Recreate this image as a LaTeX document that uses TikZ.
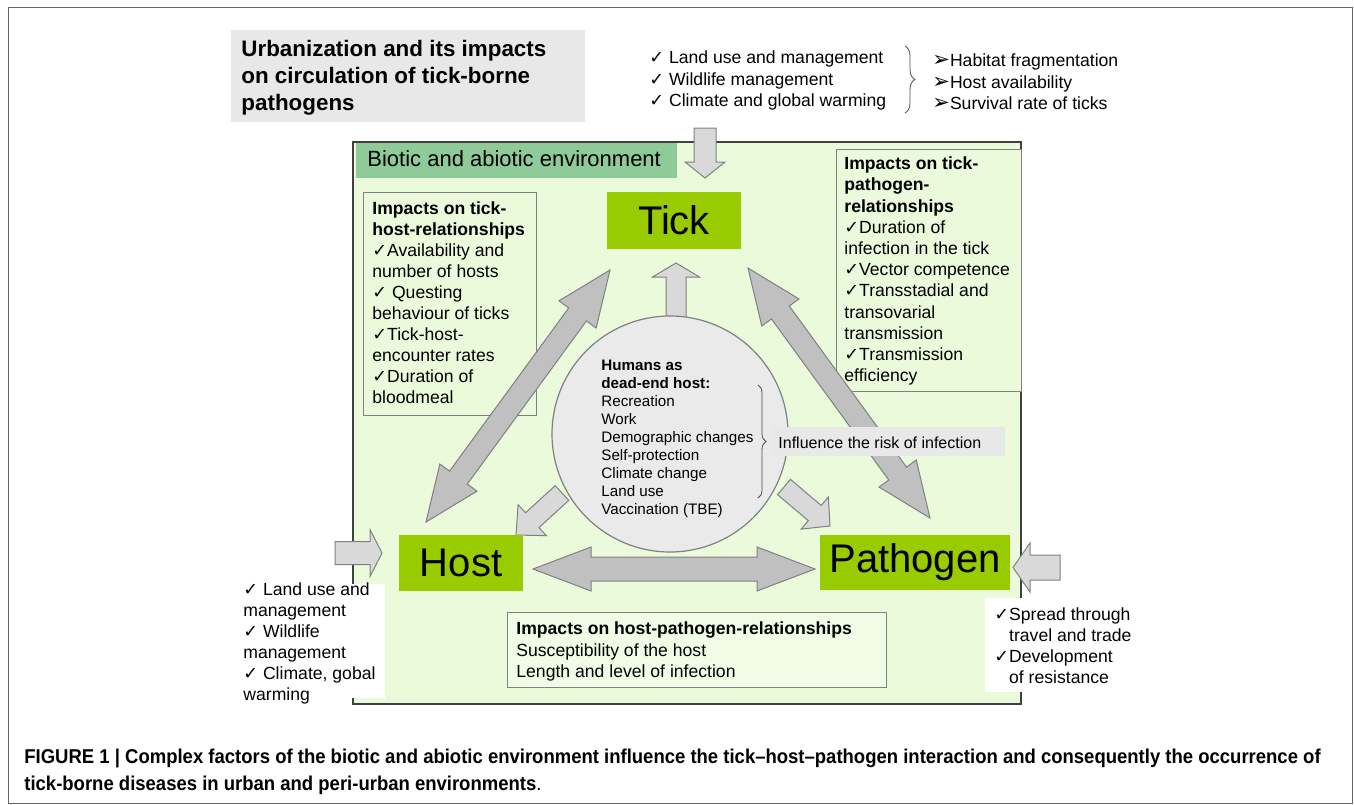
\documentclass[tikz,border=0pt]{standalone}
\usepackage{fontspec}
\setmainfont{Liberation Sans}
\newfontfamily\symf{DejaVu Sans}
\newfontfamily\capf[FakeStretch=0.925]{Liberation Sans}
\usetikzlibrary{calc,decorations.pathreplacing}

\definecolor{envbg}{RGB}{236,250,220}
\definecolor{boxbg}{RGB}{241,252,231}
\definecolor{leaf}{RGB}{153,204,0}
\definecolor{envlab}{RGB}{143,202,153}
\definecolor{titlegray}{RGB}{232,232,232}
\definecolor{circgray}{RGB}{234,234,234}
\definecolor{arrowlight}{RGB}{217,217,217}
\definecolor{arrowdark}{RGB}{192,192,192}
\definecolor{edge}{RGB}{128,128,128}

\newcommand{\chk}{{\symf ✓}}
\newcommand{\pointer}{{\symf\fontsize{10.5}{10}\selectfont ➢}}

% block arrow: from, to, shaft half width, head half width, head length
\newcommand{\onearrow}[6][]{%
  \path ($(#3)!#6!(#2)$) coordinate (hb);
  \draw[#1] ($(#2)!#4!90:(#3)$) -- ($(hb)!#4!-90:(#2)$) -- ($(hb)!#5!-90:(#2)$) -- (#3)
    -- ($(hb)!#5!90:(#2)$) -- ($(hb)!#4!90:(#2)$) -- ($(#2)!#4!-90:(#3)$) -- cycle;}
\newcommand{\twoarrow}[6][]{%
  \path ($(#2)!#6!(#3)$) coordinate (ha) ($(#3)!#6!(#2)$) coordinate (hb);
  \draw[#1] (#2) -- ($(ha)!#5!90:(#3)$) -- ($(ha)!#4!90:(#3)$) -- ($(hb)!#4!-90:(#2)$)
    -- ($(hb)!#5!-90:(#2)$) -- (#3) -- ($(hb)!#5!90:(#2)$) -- ($(hb)!#4!90:(#2)$)
    -- ($(ha)!#4!-90:(#3)$) -- ($(ha)!#5!-90:(#3)$) -- cycle;}

\tikzset{
  txt/.style={anchor=west, inner sep=0pt, text height=1.5ex, text depth=.25ex,
    font=\fontsize{8.8}{10}\selectfont},
  humtxt/.style={txt, font=\fontsize{7.6}{9}\selectfont},
  term/.style={fill=leaf, inner sep=0pt, font=\fontsize{20}{24}\selectfont},
  lightarrow/.style={fill=arrowlight, draw=edge, line width=0.5pt},
  darkarrow/.style={fill=arrowdark, draw=edge, line width=0.5pt},
}

\begin{document}
\begin{tikzpicture}[x=0.5pt, y=-0.5pt]
\useasboundingbox (0,0) rectangle (1354,804);
\draw[black!60, line width=0.5pt] (8,7) rectangle (1352,803);

% title
\fill[titlegray] (231,30) rectangle (585,122);
\foreach \lbl [count=\i from 0] in {Urbanization and its impacts, on circulation of tick-borne, pathogens}
  \node[txt, font=\fontsize{11.2}{13}\selectfont\bfseries] (title\i) at (241,50+27*\i) {\lbl};

% drivers and effects
\foreach \lbl [count=\i from 0] in {\chk\ Land use and management, \chk\ Wildlife management, \chk\ Climate and global warming}
  \node[txt] (drv\i) at (649,57+21.5*\i) {\lbl};
\draw[decorate, decoration={brace, amplitude=5pt}, black!70] (905,46) -- (905,113);
\foreach \lbl [count=\i from 0] in {Habitat fragmentation, Host availability, Survival rate of ticks}
  \node[txt] (eff\i) at (932,60+21.5*\i) {\pointer\lbl};

% environment
\draw[fill=envbg, draw=black!75, line width=0.8pt] (353,142) rectangle (1021,704);
\fill[envlab] (356,143) rectangle (677,178);
\node[txt, font=\fontsize{11}{13}\selectfont] (env) at (367,160) {Biotic and abiotic environment};

% impact boxes
\draw[fill=envbg, draw=edge] (363,192) rectangle (536,415);
\foreach \lbl [count=\i from 0] in {\textbf{Impacts on tick-}, \textbf{host-relationships}, \chk Availability and, number of hosts, \chk\ Questing, behaviour of ticks, \chk Tick-host-, encounter rates, \chk Duration of, bloodmeal}
  \node[txt] (th\i) at (372,208+21*\i) {\lbl};
\draw[fill=envbg, draw=edge] (836,149) rectangle (1021,391);
\foreach \lbl [count=\i from 0] in {\textbf{Impacts on tick-}, \textbf{pathogen-}, \textbf{relationships}, \chk Duration of, infection in the tick, \chk Vector competence, \chk Transstadial and, transovarial, transmission, \chk Transmission, efficiency}
  \node[txt] (tp\i) at (844,163+21.2*\i) {\lbl};
\draw[fill=boxbg, draw=edge] (507,612) rectangle (886,687);
\foreach \lbl [count=\i from 0] in {\textbf{Impacts on host-pathogen-relationships}, Susceptibility of the host, Length and level of infection}
  \node[txt] (hp\i) at (516,628+21.5*\i) {\lbl};

% outside factors
\fill[white] (236,584) rectangle (385,698);
\foreach \lbl [count=\i from 0] in {\chk\ Land use and, management, \chk\ Wildlife, management, {\chk\ Climate, gobal}, warming}
  \node[txt] (hf\i) at (243,589+21*\i) {\lbl};
\fill[white] (985,598) rectangle (1137,692);
\foreach \lbl [count=\i from 0] in {\chk Spread through, \phantom{\chk}travel and trade, \chk Development, \phantom{\chk}of resistance}
  \node[txt] (pf\i) at (994,614+21*\i) {\lbl};

% arrows
\coordinate (ht-a) at (426,522); \coordinate (ht-b) at (610,270);
\coordinate (tp-a) at (748,268); \coordinate (tp-b) at (930,518);
\coordinate (hp-a) at (533,569); \coordinate (hp-b) at (815,569);
\twoarrow[darkarrow]{ht-a}{ht-b}{5.5pt}{11.5pt}{27.5pt}
\twoarrow[darkarrow]{tp-a}{tp-b}{5.5pt}{11.5pt}{27.5pt}
\twoarrow[darkarrow]{hp-a}{hp-b}{6pt}{11pt}{29pt}
\coordinate (top-a) at (705,128); \coordinate (top-b) at (705,178);
\onearrow[lightarrow]{top-a}{top-b}{5.5pt}{10pt}{8pt}
\coordinate (up-a) at (676,318); \coordinate (up-b) at (676,263);
\onearrow[lightarrow]{up-a}{up-b}{5pt}{11.75pt}{7pt}
\coordinate (lh-a) at (335,553); \coordinate (lh-b) at (382,553);
\onearrow[lightarrow]{lh-a}{lh-b}{5.75pt}{11.75pt}{6pt}
\coordinate (rp-a) at (1060,567.5); \coordinate (rp-b) at (1013,567.5);
\onearrow[lightarrow]{rp-a}{rp-b}{6.25pt}{12.25pt}{8.5pt}
\coordinate (ch-a) at (562,493); \coordinate (ch-b) at (516,535);
\onearrow[lightarrow]{ch-a}{ch-b}{5pt}{10.5pt}{11pt}
\coordinate (cp-a) at (784,487); \coordinate (cp-b) at (830,526);
\onearrow[lightarrow]{cp-a}{cp-b}{5pt}{10.5pt}{10pt}

% humans
\node[circle, draw=edge, fill=circgray, line width=0.6pt, minimum size=118pt, inner sep=0pt] (humans) at (670,434) {};
\foreach \lbl [count=\i from 0] in {\textbf{Humans as}, \textbf{dead-end host:}, Recreation, Work, Demographic changes, Self-protection, Climate change, Land use, Vaccination (TBE)}
  \node[humtxt] (hu\i) at (601,364+18*\i) {\lbl};
\draw[decorate, decoration={brace, amplitude=4pt}, black!70] (758,385) -- (758,498);
\fill[titlegray] (773,427) rectangle (1005,456);
\node[txt, font=\fontsize{8}{10}\selectfont] (risk) at (778,442) {Influence the risk of infection};

% tick, host, pathogen
\node[term, minimum width=67pt, minimum height=28.5pt] (tick) at (674,220.5) {Tick};
\node[term, minimum width=62pt, minimum height=28pt] (host) at (461,563) {Host};
\node[term, minimum width=95pt, minimum height=27.5pt] (pathogen) at (915,562.5) {Pathogen};

% caption
\node[anchor=base west, inner sep=0pt, font=\capf\fontsize{10}{12}\selectfont] (cap1) at (24,763)
  {\textbf{FIGURE 1 | Complex factors of the biotic and abiotic environment influence the tick–host–pathogen interaction and consequently the occurrence of}};
\node[anchor=base west, inner sep=0pt, font=\capf\fontsize{10}{12}\selectfont] (cap2) at (24,790)
  {\textbf{tick-borne diseases in urban and peri-urban environments}.};
\end{tikzpicture}
\end{document}
